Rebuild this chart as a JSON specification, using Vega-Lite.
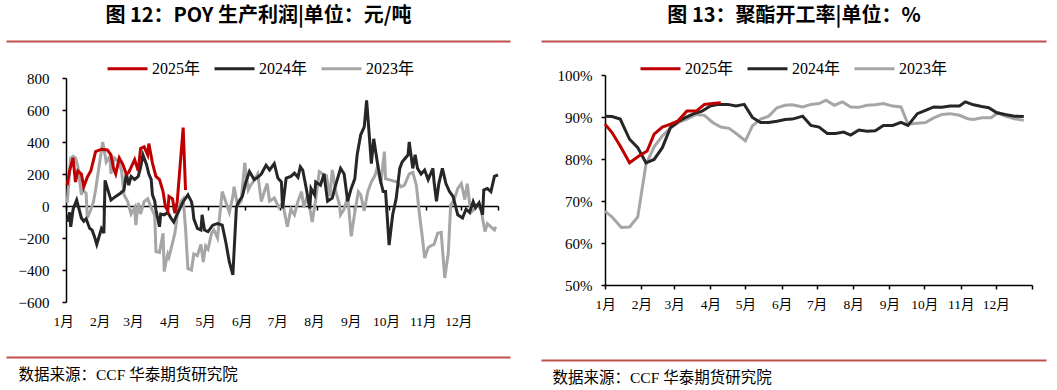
{
  "$schema": "https://vega.github.io/schema/vega-lite/v6.json",
  "background": "white",
  "padding": {"left": 18, "top": 5, "right": 16, "bottom": 0},
  "spacing": -18,
  "datasets": {
    "profit": [
      {"s":"2023年","d":1,"v":20},{"s":"2023年","d":4,"v":300},{"s":"2023年","d":6,"v":310},{"s":"2023年","d":8,"v":300},{"s":"2023年","d":10,"v":250},{"s":"2023年","d":13,"v":70},{"s":"2023年","d":14,"v":100},{"s":"2023年","d":17,"v":80},{"s":"2023年","d":18,"v":-75},{"s":"2023年","d":20,"v":-40},{"s":"2023年","d":23,"v":20},{"s":"2023年","d":25,"v":100},{"s":"2023年","d":28,"v":250},{"s":"2023年","d":31,"v":400},{"s":"2023年","d":34,"v":275},{"s":"2023年","d":37,"v":310},{"s":"2023年","d":38,"v":200},{"s":"2023年","d":41,"v":300},{"s":"2023年","d":44,"v":280},{"s":"2023年","d":47,"v":220},{"s":"2023年","d":49,"v":70},{"s":"2023年","d":52,"v":30},{"s":"2023年","d":55,"v":-50},{"s":"2023年","d":58,"v":-10},{"s":"2023年","d":59,"v":-120},{"s":"2023年","d":61,"v":20},{"s":"2023年","d":63,"v":-50},{"s":"2023年","d":66,"v":27},{"s":"2023年","d":69,"v":45},{"s":"2023年","d":72,"v":-10},{"s":"2023年","d":75,"v":-60},{"s":"2023年","d":76,"v":-285},{"s":"2023年","d":79,"v":-290},{"s":"2023年","d":82,"v":-170},{"s":"2023年","d":83,"v":-410},{"s":"2023年","d":85,"v":-330},{"s":"2023年","d":86,"v":-300},{"s":"2023年","d":87,"v":-320},{"s":"2023年","d":90,"v":-230},{"s":"2023年","d":92,"v":-170},{"s":"2023年","d":94,"v":-60},{"s":"2023年","d":97,"v":27},{"s":"2023年","d":99,"v":45},{"s":"2023年","d":101,"v":-140},{"s":"2023年","d":103,"v":-390},{"s":"2023年","d":106,"v":-400},{"s":"2023年","d":108,"v":-300},{"s":"2023年","d":111,"v":-310},{"s":"2023年","d":114,"v":-240},{"s":"2023年","d":116,"v":-350},{"s":"2023年","d":118,"v":-250},{"s":"2023年","d":120,"v":-270},{"s":"2023年","d":123,"v":-170},{"s":"2023年","d":125,"v":-150},{"s":"2023年","d":128,"v":-200},{"s":"2023年","d":131,"v":20},{"s":"2023年","d":132,"v":90},{"s":"2023年","d":135,"v":27},{"s":"2023年","d":138,"v":-40},{"s":"2023年","d":141,"v":60},{"s":"2023年","d":142,"v":120},{"s":"2023年","d":145,"v":5},{"s":"2023年","d":148,"v":30},{"s":"2023年","d":151,"v":270},{"s":"2023年","d":154,"v":100},{"s":"2023年","d":156,"v":130},{"s":"2023年","d":159,"v":160},{"s":"2023年","d":162,"v":200},{"s":"2023年","d":165,"v":27},{"s":"2023年","d":168,"v":100},{"s":"2023年","d":170,"v":140},{"s":"2023年","d":172,"v":30},{"s":"2023年","d":176,"v":50},{"s":"2023年","d":180,"v":-10},{"s":"2023年","d":183,"v":20},{"s":"2023年","d":187,"v":-130},{"s":"2023年","d":190,"v":-20},{"s":"2023年","d":193,"v":-55},{"s":"2023年","d":196,"v":30},{"s":"2023年","d":199,"v":90},{"s":"2023年","d":201,"v":-10},{"s":"2023年","d":204,"v":70},{"s":"2023年","d":208,"v":-100},{"s":"2023年","d":211,"v":40},{"s":"2023年","d":214,"v":215},{"s":"2023年","d":217,"v":200},{"s":"2023年","d":220,"v":190},{"s":"2023年","d":223,"v":60},{"s":"2023年","d":225,"v":225},{"s":"2023年","d":228,"v":90},{"s":"2023年","d":231,"v":10},{"s":"2023年","d":232,"v":-55},{"s":"2023年","d":235,"v":-20},{"s":"2023年","d":238,"v":60},{"s":"2023年","d":241,"v":-190},{"s":"2023年","d":244,"v":-40},{"s":"2023年","d":247,"v":90},{"s":"2023年","d":249,"v":70},{"s":"2023年","d":252,"v":-30},{"s":"2023年","d":255,"v":90},{"s":"2023年","d":258,"v":150},{"s":"2023年","d":261,"v":190},{"s":"2023年","d":263,"v":240},{"s":"2023年","d":266,"v":140},{"s":"2023年","d":269,"v":340},{"s":"2023年","d":270,"v":170},{"s":"2023年","d":275,"v":160},{"s":"2023年","d":280,"v":150},{"s":"2023年","d":283,"v":120},{"s":"2023年","d":286,"v":130},{"s":"2023年","d":290,"v":200},{"s":"2023年","d":293,"v":210},{"s":"2023年","d":296,"v":130},{"s":"2023年","d":299,"v":-75},{"s":"2023年","d":301,"v":-190},{"s":"2023年","d":303,"v":-325},{"s":"2023年","d":306,"v":-260},{"s":"2023年","d":308,"v":-250},{"s":"2023年","d":311,"v":-240},{"s":"2023年","d":314,"v":-170},{"s":"2023年","d":317,"v":-165},{"s":"2023年","d":320,"v":-450},{"s":"2023年","d":323,"v":-295},{"s":"2023年","d":325,"v":5},{"s":"2023年","d":328,"v":40},{"s":"2023年","d":331,"v":110},{"s":"2023年","d":334,"v":140},{"s":"2023年","d":337,"v":40},{"s":"2023年","d":339,"v":140},{"s":"2023年","d":342,"v":-40},{"s":"2023年","d":345,"v":-20},{"s":"2023年","d":348,"v":10},{"s":"2023年","d":351,"v":-30},{"s":"2023年","d":352,"v":-80},{"s":"2023年","d":354,"v":-160},{"s":"2023年","d":356,"v":-110},{"s":"2023年","d":359,"v":-130},{"s":"2023年","d":362,"v":-150},{"s":"2023年","d":363,"v":-130},
      {"s":"2024年","d":1,"v":-98},{"s":"2024年","d":3,"v":-40},{"s":"2024年","d":4,"v":-130},{"s":"2024年","d":6,"v":-20},{"s":"2024年","d":9,"v":37},{"s":"2024年","d":13,"v":-75},{"s":"2024年","d":15,"v":-95},{"s":"2024年","d":17,"v":-80},{"s":"2024年","d":20,"v":-140},{"s":"2024年","d":22,"v":-150},{"s":"2024年","d":24,"v":-190},{"s":"2024年","d":26,"v":-240},{"s":"2024年","d":30,"v":-140},{"s":"2024年","d":31,"v":-150},{"s":"2024年","d":32,"v":-170},{"s":"2024年","d":33,"v":160},{"s":"2024年","d":35,"v":110},{"s":"2024年","d":38,"v":37},{"s":"2024年","d":42,"v":60},{"s":"2024年","d":46,"v":80},{"s":"2024年","d":49,"v":100},{"s":"2024年","d":51,"v":205},{"s":"2024年","d":53,"v":130},{"s":"2024年","d":55,"v":185},{"s":"2024年","d":58,"v":165},{"s":"2024年","d":61,"v":185},{"s":"2024年","d":63,"v":240},{"s":"2024年","d":65,"v":320},{"s":"2024年","d":68,"v":260},{"s":"2024年","d":70,"v":200},{"s":"2024年","d":72,"v":165},{"s":"2024年","d":73,"v":70},{"s":"2024年","d":75,"v":30},{"s":"2024年","d":76,"v":-25},{"s":"2024年","d":79,"v":-130},{"s":"2024年","d":80,"v":-50},{"s":"2024年","d":83,"v":-55},{"s":"2024年","d":86,"v":-40},{"s":"2024年","d":89,"v":-80},{"s":"2024年","d":91,"v":-100},{"s":"2024年","d":94,"v":-50},{"s":"2024年","d":99,"v":27},{"s":"2024年","d":103,"v":70},{"s":"2024年","d":106,"v":27},{"s":"2024年","d":107,"v":-10},{"s":"2024年","d":108,"v":-80},{"s":"2024年","d":111,"v":-140},{"s":"2024年","d":114,"v":-150},{"s":"2024年","d":115,"v":-55},{"s":"2024年","d":117,"v":-150},{"s":"2024年","d":120,"v":-160},{"s":"2024年","d":124,"v":-120},{"s":"2024年","d":128,"v":-110},{"s":"2024年","d":132,"v":-120},{"s":"2024年","d":135,"v":-225},{"s":"2024年","d":138,"v":-350},{"s":"2024年","d":141,"v":-430},{"s":"2024年","d":142,"v":-285},{"s":"2024年","d":144,"v":-5},{"s":"2024年","d":146,"v":27},{"s":"2024年","d":149,"v":60},{"s":"2024年","d":152,"v":150},{"s":"2024年","d":155,"v":215},{"s":"2024年","d":159,"v":165},{"s":"2024年","d":162,"v":180},{"s":"2024年","d":165,"v":200},{"s":"2024年","d":169,"v":255},{"s":"2024年","d":172,"v":225},{"s":"2024年","d":176,"v":265},{"s":"2024年","d":179,"v":175},{"s":"2024年","d":182,"v":150},{"s":"2024年","d":183,"v":-15},{"s":"2024年","d":186,"v":175},{"s":"2024年","d":190,"v":185},{"s":"2024年","d":193,"v":205},{"s":"2024年","d":196,"v":180},{"s":"2024年","d":198,"v":245},{"s":"2024年","d":200,"v":225},{"s":"2024年","d":203,"v":110},{"s":"2024年","d":206,"v":-15},{"s":"2024年","d":207,"v":110},{"s":"2024年","d":210,"v":70},{"s":"2024年","d":211,"v":150},{"s":"2024年","d":215,"v":130},{"s":"2024年","d":218,"v":200},{"s":"2024年","d":221,"v":30},{"s":"2024年","d":225,"v":50},{"s":"2024年","d":227,"v":110},{"s":"2024年","d":230,"v":185},{"s":"2024年","d":232,"v":235},{"s":"2024年","d":235,"v":200},{"s":"2024年","d":238,"v":30},{"s":"2024年","d":241,"v":110},{"s":"2024年","d":244,"v":170},{"s":"2024年","d":246,"v":320},{"s":"2024年","d":249,"v":445},{"s":"2024年","d":252,"v":495},{"s":"2024年","d":254,"v":660},{"s":"2024年","d":256,"v":465},{"s":"2024年","d":258,"v":265},{"s":"2024年","d":260,"v":420},{"s":"2024年","d":263,"v":275},{"s":"2024年","d":266,"v":150},{"s":"2024年","d":268,"v":90},{"s":"2024年","d":270,"v":90},{"s":"2024年","d":273,"v":-245},{"s":"2024年","d":276,"v":-55},{"s":"2024年","d":279,"v":48},{"s":"2024年","d":282,"v":235},{"s":"2024年","d":284,"v":275},{"s":"2024年","d":289,"v":320},{"s":"2024年","d":290,"v":400},{"s":"2024年","d":293,"v":235},{"s":"2024年","d":295,"v":320},{"s":"2024年","d":297,"v":235},{"s":"2024年","d":300,"v":200},{"s":"2024年","d":303,"v":225},{"s":"2024年","d":306,"v":165},{"s":"2024年","d":310,"v":235},{"s":"2024年","d":311,"v":150},{"s":"2024年","d":313,"v":30},{"s":"2024年","d":315,"v":140},{"s":"2024年","d":318,"v":235},{"s":"2024年","d":321,"v":140},{"s":"2024年","d":324,"v":90},{"s":"2024年","d":327,"v":60},{"s":"2024年","d":331,"v":-55},{"s":"2024年","d":335,"v":-75},{"s":"2024年","d":338,"v":-20},{"s":"2024年","d":341,"v":-40},{"s":"2024年","d":344,"v":27},{"s":"2024年","d":346,"v":-10},{"s":"2024年","d":349,"v":20},{"s":"2024年","d":352,"v":-55},{"s":"2024年","d":353,"v":100},{"s":"2024年","d":356,"v":110},{"s":"2024年","d":359,"v":90},{"s":"2024年","d":362,"v":185},{"s":"2024年","d":365,"v":195},
      {"s":"2025年","d":1,"v":130},{"s":"2025年","d":3,"v":220},{"s":"2025年","d":6,"v":300},{"s":"2025年","d":8,"v":150},{"s":"2025年","d":10,"v":220},{"s":"2025年","d":13,"v":200},{"s":"2025年","d":15,"v":120},{"s":"2025年","d":18,"v":180},{"s":"2025年","d":21,"v":220},{"s":"2025年","d":25,"v":340},{"s":"2025年","d":30,"v":355},{"s":"2025年","d":35,"v":350},{"s":"2025年","d":38,"v":320},{"s":"2025年","d":40,"v":240},{"s":"2025年","d":42,"v":200},{"s":"2025年","d":45,"v":300},{"s":"2025年","d":48,"v":260},{"s":"2025年","d":51,"v":200},{"s":"2025年","d":53,"v":210},{"s":"2025年","d":58,"v":290},{"s":"2025年","d":61,"v":220},{"s":"2025年","d":63,"v":360},{"s":"2025年","d":66,"v":370},{"s":"2025年","d":69,"v":320},{"s":"2025年","d":70,"v":390},{"s":"2025年","d":73,"v":270},{"s":"2025年","d":76,"v":185},{"s":"2025年","d":79,"v":165},{"s":"2025年","d":82,"v":90},{"s":"2025年","d":84,"v":-5},{"s":"2025年","d":86,"v":-30},{"s":"2025年","d":87,"v":60},{"s":"2025年","d":90,"v":45},{"s":"2025年","d":92,"v":-45},{"s":"2025年","d":94,"v":30},{"s":"2025年","d":99,"v":490},{"s":"2025年","d":101,"v":100}
    ],
    "rate": [
      {"s":"2023年","d":0,"v":67.6},{"s":"2023年","d":6,"v":66.2},{"s":"2023年","d":14,"v":63.7},{"s":"2023年","d":21,"v":63.8},{"s":"2023年","d":28,"v":66.2},{"s":"2023年","d":35,"v":78.7},{"s":"2023年","d":42,"v":82.9},{"s":"2023年","d":49,"v":85.5},{"s":"2023年","d":56,"v":87.4},{"s":"2023年","d":63,"v":88.7},{"s":"2023年","d":70,"v":89.5},{"s":"2023年","d":78,"v":90.6},{"s":"2023年","d":85,"v":90.4},{"s":"2023年","d":92,"v":88.7},{"s":"2023年","d":99,"v":87.6},{"s":"2023年","d":106,"v":87.3},{"s":"2023年","d":113,"v":85.9},{"s":"2023年","d":120,"v":84.3},{"s":"2023年","d":126,"v":87.9},{"s":"2023年","d":133,"v":89.5},{"s":"2023年","d":140,"v":90.2},{"s":"2023年","d":147,"v":92.2},{"s":"2023年","d":154,"v":92.8},{"s":"2023年","d":160,"v":92.9},{"s":"2023年","d":169,"v":92.4},{"s":"2023年","d":176,"v":93.0},{"s":"2023年","d":183,"v":93.2},{"s":"2023年","d":189,"v":94.0},{"s":"2023年","d":196,"v":92.8},{"s":"2023年","d":203,"v":93.6},{"s":"2023年","d":210,"v":92.4},{"s":"2023年","d":217,"v":92.3},{"s":"2023年","d":224,"v":92.8},{"s":"2023年","d":231,"v":92.9},{"s":"2023年","d":238,"v":93.2},{"s":"2023年","d":246,"v":92.6},{"s":"2023年","d":253,"v":92.4},{"s":"2023年","d":259,"v":88.3},{"s":"2023年","d":267,"v":88.5},{"s":"2023年","d":274,"v":88.7},{"s":"2023年","d":281,"v":89.8},{"s":"2023年","d":288,"v":90.6},{"s":"2023年","d":295,"v":90.8},{"s":"2023年","d":303,"v":90.4},{"s":"2023年","d":310,"v":89.6},{"s":"2023年","d":315,"v":89.4},{"s":"2023年","d":322,"v":89.8},{"s":"2023年","d":330,"v":89.8},{"s":"2023年","d":336,"v":91.0},{"s":"2023年","d":342,"v":90.2},{"s":"2023年","d":350,"v":89.6},{"s":"2023年","d":358,"v":89.2},
      {"s":"2024年","d":0,"v":90.2},{"s":"2024年","d":6,"v":90.1},{"s":"2024年","d":13,"v":89.5},{"s":"2024年","d":21,"v":84.7},{"s":"2024年","d":28,"v":82.7},{"s":"2024年","d":35,"v":79.1},{"s":"2024年","d":42,"v":79.9},{"s":"2024年","d":49,"v":82.7},{"s":"2024年","d":56,"v":87.5},{"s":"2024年","d":63,"v":89.0},{"s":"2024年","d":69,"v":89.9},{"s":"2024年","d":76,"v":90.8},{"s":"2024年","d":83,"v":91.4},{"s":"2024年","d":90,"v":92.6},{"s":"2024年","d":97,"v":93.0},{"s":"2024年","d":105,"v":93.0},{"s":"2024年","d":112,"v":92.6},{"s":"2024年","d":119,"v":93.0},{"s":"2024年","d":126,"v":89.9},{"s":"2024年","d":133,"v":88.7},{"s":"2024年","d":140,"v":88.7},{"s":"2024年","d":147,"v":89.0},{"s":"2024年","d":154,"v":89.4},{"s":"2024年","d":160,"v":89.5},{"s":"2024年","d":164,"v":89.8},{"s":"2024年","d":169,"v":90.2},{"s":"2024年","d":176,"v":88.0},{"s":"2024年","d":183,"v":87.6},{"s":"2024年","d":190,"v":86.1},{"s":"2024年","d":197,"v":86.1},{"s":"2024年","d":204,"v":86.4},{"s":"2024年","d":210,"v":85.7},{"s":"2024年","d":217,"v":86.9},{"s":"2024年","d":224,"v":86.6},{"s":"2024年","d":231,"v":86.7},{"s":"2024年","d":238,"v":88.0},{"s":"2024年","d":246,"v":88.0},{"s":"2024年","d":253,"v":88.7},{"s":"2024年","d":259,"v":88.0},{"s":"2024年","d":267,"v":90.8},{"s":"2024年","d":274,"v":91.6},{"s":"2024年","d":281,"v":92.4},{"s":"2024年","d":288,"v":92.3},{"s":"2024年","d":295,"v":92.6},{"s":"2024年","d":303,"v":92.6},{"s":"2024年","d":308,"v":93.6},{"s":"2024年","d":315,"v":92.9},{"s":"2024年","d":322,"v":92.5},{"s":"2024年","d":328,"v":92.2},{"s":"2024年","d":335,"v":91.0},{"s":"2024年","d":342,"v":90.6},{"s":"2024年","d":350,"v":90.2},{"s":"2024年","d":358,"v":90.1},
      {"s":"2025年","d":0,"v":88.3},{"s":"2025年","d":6,"v":86.3},{"s":"2025年","d":13,"v":83.1},{"s":"2025年","d":21,"v":79.1},{"s":"2025年","d":29,"v":80.7},{"s":"2025年","d":36,"v":81.9},{"s":"2025年","d":42,"v":85.9},{"s":"2025年","d":49,"v":87.6},{"s":"2025年","d":56,"v":88.3},{"s":"2025年","d":62,"v":89.0},{"s":"2025年","d":70,"v":91.4},{"s":"2025年","d":78,"v":91.4},{"s":"2025年","d":85,"v":93.0},{"s":"2025年","d":92,"v":93.2},{"s":"2025年","d":99,"v":93.4}
    ]
  },
  "hconcat": [
    {
      "spacing": 29,
      "vconcat": [
        {
          "width": 432, "height": 1,
          "data": {"values": []},
          "mark": {"type": "point", "opacity": 0},
          "encoding": {
            "x": {"field": "u", "type": "quantitative",
              "scale": {"domain": [0, 1], "range": [-60, 444]},
              "axis": {"orient": "top", "offset": 0, "domain": true, "domainColor": "#c0504d", "domainWidth": 2, "ticks": false, "labels": false,
                "title": "图 12：POY 生产利润|单位：元/吨", "titleFont": "Noto Sans CJK SC", "titleFontSize": 20, "titleFontWeight": "bold", "titleColor": "#000", "titlePadding": 16}}
          }
        },
        {
          "width": 432, "height": 224,
          "data": {"name": "profit"},
          "mark": {"type": "line", "strokeWidth": 3},
          "encoding": {
            "x": {"field": "d", "type": "quantitative",
              "scale": {"domain": [0, 365], "nice": false, "zero": false},
              "axis": {"orient": "bottom", "offset": -96, "values": [0,31,59,90,120,151,181,212,243,273,304,334,365],
                "labelExpr": "indexof([0,31,59,90,120,151,181,212,243,273,304,334], datum.value) >= 0 ? (indexof([0,31,59,90,120,151,181,212,243,273,304,334], datum.value) + 1) + '月' : ''",
                "domainColor": "#000", "domainWidth": 1.5, "tickColor": "#000", "tickSize": 4, "tickWidth": 1.5,
                "labelFont": "Liberation Serif, Noto Sans CJK SC", "labelFontSize": 13.5, "labelColor": "#000", "labelPadding": 104, "labelOffset": -3, "labelFlush": false, "labelOverlap": false, "title": null, "grid": false}},
            "y": {"field": "v", "type": "quantitative",
              "scale": {"domain": [-600, 800], "nice": false, "zero": false},
              "axis": {"values": [-600,-400,-200,0,200,400,600,800], "domainColor": "#000", "domainWidth": 1.5, "tickColor": "#000", "tickSize": 4, "tickWidth": 1.5,
                "labelFont": "Liberation Serif", "labelFontSize": 15, "labelColor": "#000", "labelPadding": 13, "title": null, "grid": false}},
            "color": {"field": "s", "type": "nominal",
              "scale": {"domain": ["2025年", "2024年", "2023年"], "range": ["#C00000", "#262626", "#A6A6A6"]},
              "legend": {"orient": "none", "legendX": 40, "legendY": 6, "direction": "horizontal", "title": null,
                "symbolType": "stroke", "symbolSize": 1600, "symbolStrokeWidth": 3, "labelFont": "Liberation Serif, Noto Sans CJK SC", "labelFontSize": 16, "labelColor": "#000", "labelOffset": 3, "columnPadding": 7, "padding": 0}}
          }
        },
        {
          "width": 432, "height": 1,
          "data": {"values": []},
          "mark": {"type": "point", "opacity": 0},
          "encoding": {
            "x": {"field": "u", "type": "quantitative",
              "scale": {"domain": [0, 1], "range": [-60, 444]},
              "axis": {"orient": "bottom", "offset": -1, "domain": true, "domainColor": "#c0504d", "domainWidth": 2, "ticks": false, "labels": false,
                "title": "数据来源：CCF  华泰期货研究院", "titleFont": "Liberation Serif, Noto Sans CJK SC", "titleFontSize": 15.5, "titleFontWeight": "normal", "titleColor": "#000", "titlePadding": 10, "titleX": -48, "titleAlign": "left", "titleAnchor": "start"}}
          }
        }
      ]
    },
    {
      "spacing": 26,
      "vconcat": [
        {
          "width": 427, "height": 1,
          "data": {"values": []},
          "mark": {"type": "point", "opacity": 0},
          "encoding": {
            "x": {"field": "u", "type": "quantitative",
              "scale": {"domain": [0, 1], "range": [-64, 441]},
              "axis": {"orient": "top", "offset": 0, "domain": true, "domainColor": "#c0504d", "domainWidth": 2, "ticks": false, "labels": false,
                "title": "图 13：聚酯开工率|单位：%", "titleFont": "Noto Sans CJK SC", "titleFontSize": 20, "titleFontWeight": "bold", "titleColor": "#000", "titlePadding": 16}}
          }
        },
        {
          "width": 427, "height": 210,
          "data": {"name": "rate"},
          "mark": {"type": "line", "strokeWidth": 3},
          "encoding": {
            "x": {"field": "d", "type": "quantitative",
              "scale": {"domain": [0, 365], "nice": false, "zero": false},
              "axis": {"orient": "bottom", "values": [0,31,59,90,120,151,181,212,243,273,304,334,365],
                "labelExpr": "indexof([0,31,59,90,120,151,181,212,243,273,304,334], datum.value) >= 0 ? (indexof([0,31,59,90,120,151,181,212,243,273,304,334], datum.value) + 1) + '月' : ''",
                "domainColor": "#000", "domainWidth": 1.5, "tickColor": "#000", "tickSize": 4, "tickWidth": 1.5,
                "labelFont": "Liberation Serif, Noto Sans CJK SC", "labelFontSize": 13.5, "labelColor": "#000", "labelPadding": 8, "labelFlush": false, "labelOverlap": false, "title": null, "grid": false}},
            "y": {"field": "v", "type": "quantitative",
              "scale": {"domain": [50, 100], "nice": false, "zero": false},
              "axis": {"values": [50,60,70,80,90,100], "labelExpr": "datum.value + '%'", "domainColor": "#000", "domainWidth": 1.5, "tickColor": "#000", "tickSize": 4, "tickWidth": 1.5,
                "labelFont": "Liberation Serif", "labelFontSize": 15, "labelColor": "#000", "labelPadding": 9, "title": null, "grid": false}},
            "color": {"field": "s", "type": "nominal",
              "scale": {"domain": ["2025年", "2024年", "2023年"], "range": ["#C00000", "#262626", "#A6A6A6"]},
              "legend": {"orient": "none", "legendX": 34, "legendY": 6, "direction": "horizontal", "title": null,
                "symbolType": "stroke", "symbolSize": 1600, "symbolStrokeWidth": 3, "labelFont": "Liberation Serif, Noto Sans CJK SC", "labelFontSize": 16, "labelColor": "#000", "labelOffset": 3, "columnPadding": 7, "padding": 0}}
          }
        },
        {
          "width": 427, "height": 1,
          "data": {"values": []},
          "mark": {"type": "point", "opacity": 0},
          "encoding": {
            "x": {"field": "u", "type": "quantitative",
              "scale": {"domain": [0, 1], "range": [-64, 441]},
              "axis": {"orient": "bottom", "offset": 22, "domain": true, "domainColor": "#c0504d", "domainWidth": 2, "ticks": false, "labels": false,
                "title": "数据来源：CCF  华泰期货研究院", "titleFont": "Liberation Serif, Noto Sans CJK SC", "titleFontSize": 15.5, "titleFontWeight": "normal", "titleColor": "#000", "titlePadding": 10, "titleX": -53, "titleAlign": "left", "titleAnchor": "start"}}
          }
        }
      ]
    }
  ],
  "resolve": {"scale": {"color": "independent"}, "legend": {"color": "independent"}},
  "config": {
    "view": {"stroke": null},
    "axis": {"grid": false}
  }
}
